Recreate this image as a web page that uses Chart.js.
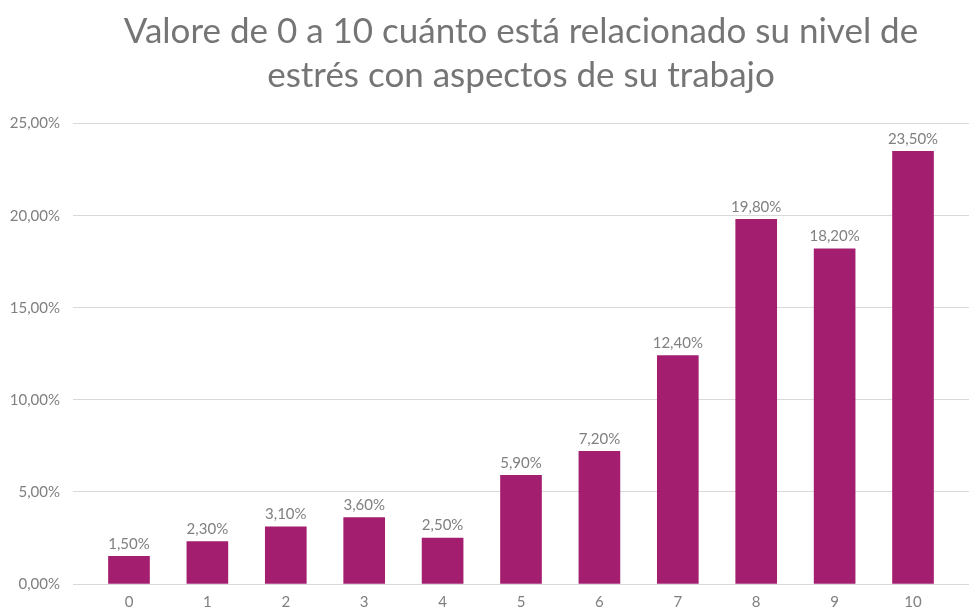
<!DOCTYPE html>
<html>
<head>
<meta charset="utf-8">
<script src="https://cdn.jsdelivr.net/npm/chart.js@4.4.1/dist/chart.umd.min.js"></script>
<style>
  body { margin: 0; background: #fff; }
  #wrap { width: 969px; height: 610px; }
</style>
</head>
<body>
<div id="wrap"><canvas id="myCanvas"></canvas></div>
<script>
const categories = ["0", "1", "2", "3", "4", "5", "6", "7", "8", "9", "10"];
const percentValues = [1.5, 2.3, 3.1, 3.6, 2.5, 5.9, 7.2, 12.4, 19.8, 18.2, 23.5];
const yTicks = [0, 5, 10, 15, 20, 25];
const titleLines = ["Valore de 0 a 10 cuánto está relacionado su nivel de", "estrés con aspectos de su trabajo"];

const FONT = "Lato, 'Open Sans', sans-serif";
const GREY = "#7f7f7f";

function fmt(v) {
  return v.toFixed(2).replace(".", ",") + "%";
}

// labels above the bars
const barLabels = {
  id: "barLabels",
  afterDatasetsDraw(chart) {
    const ctx = chart.ctx;
    const meta = chart.getDatasetMeta(0);
    ctx.save();
    ctx.font = "15px " + FONT;
    ctx.fillStyle = GREY;
    ctx.textAlign = "center";
    ctx.textBaseline = "bottom";
    meta.data.forEach((bar, i) => {
      ctx.fillText(fmt(percentValues[i]), bar.x, bar.y - 5);
    });
    ctx.restore();
  }
};

const e = document.getElementById("myCanvas").getContext("2d");
new Chart(e, {
  type: "bar",
  data: {
    datasets: [{
      label: "Porcentaje",
      data: percentValues.map((v, i) => ({ x: i, y: v })),
      backgroundColor: "#a31e6f",
      barThickness: 41
    }]
  },
  options: {
    responsive: true,
    maintainAspectRatio: false,
    animation: false,
    layout: { padding: { top: 9, right: 0, left: 0, bottom: 0 } },
    plugins: {
      legend: { display: false },
      tooltip: { enabled: false },
      title: {
        display: true,
        fullSize: false,
        text: titleLines,
        color: "#757575",
        font: { family: FONT, size: 35, weight: "normal", lineHeight: 1.28 },
        padding: { top: 0, bottom: 25 }
      }
    },
    scales: {
      x: {
        type: "linear",
        offset: false,
        min: -0.714,
        max: 10.714,
        grid: { display: false, drawTicks: false },
        border: { display: false },
        afterFit: (s) => { s.height = 26; },
        ticks: {
          stepSize: 1,
          includeBounds: false,
          autoSkip: false,
          maxRotation: 0,
          padding: 9,
          color: GREY,
          font: { family: FONT, size: 15 },
          callback: (v) => categories[v]
        }
      },
      y: {
        min: 0,
        max: 25,
        afterFit: (s) => { s.width = 73; },
        afterBuildTicks: (s) => { s.ticks = yTicks.map(v => ({ value: v })); },
        grid: { color: "#d9d9d9", drawTicks: false, lineWidth: 1 },
        border: { display: false },
        ticks: {
          padding: 13,
          color: GREY,
          font: { family: FONT, size: 15 },
          callback: (v) => fmt(v)
        }
      }
    }
  },
  plugins: [barLabels]
});
</script>
</body>
</html>
